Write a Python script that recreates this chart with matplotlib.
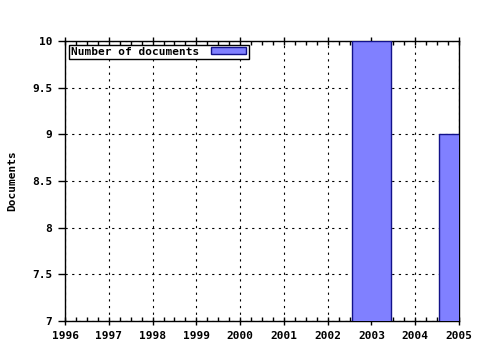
import matplotlib
matplotlib.use("Agg")
import matplotlib.pyplot as plt
from matplotlib.ticker import MultipleLocator

years = [2003, 2005]
docs = [10, 9]
xticks = list(range(1996, 2006))
yticks = [7, 7.5, 8, 8.5, 9, 9.5, 10]
ylabels = ["7", "7.5", "8", "8.5", "9", "9.5", "10"]

plt.rcParams['font.family'] = ['DejaVu Sans Mono']
plt.rcParams['font.weight'] = 'bold'
plt.rcParams['font.size'] = 8

fig = plt.figure(figsize=(4.8, 3.5), dpi=100)
ax = fig.add_axes([65/480, 1-321/350, (459-65)/480, (321-41)/350])
ax.bar(years, docs, width=0.9, color='#8080ff', edgecolor='#12128a', linewidth=1.0,
       label='Number of documents', zorder=3)
ax.set_xlim(1996, 2005)
ax.set_ylim(7, 10)
ax.set_xticks(xticks)
ax.set_xticklabels([str(x) for x in xticks])
ax.set_yticks(yticks)
ax.set_yticklabels(ylabels)
ax.xaxis.set_minor_locator(MultipleLocator(0.25))
ax.tick_params(axis='x', which='major', direction='inout', length=6, width=1, top=True, pad=4)
ax.tick_params(axis='x', which='minor', direction='in', length=3, width=1, top=True)
ax.tick_params(axis='y', which='major', direction='out', length=5, width=1, pad=4)
ax.grid(True, which='major', color='black', linestyle=(0, (2, 4)), linewidth=0.8, zorder=0)
for s in ax.spines.values():
    s.set_linewidth(1.0)
ax.set_ylabel('Documents', fontsize=8, fontweight='bold', labelpad=11)
leg = ax.legend(loc='upper left', bbox_to_anchor=(0.005, 0.995), fancybox=False, framealpha=1,
                edgecolor='black', borderpad=0.2, handlelength=3.2, handleheight=0.6,
                borderaxespad=0.2, markerfirst=False, handletextpad=1.0)
leg.get_frame().set_linewidth(1.0)
fig.savefig('out.png', dpi=100)
